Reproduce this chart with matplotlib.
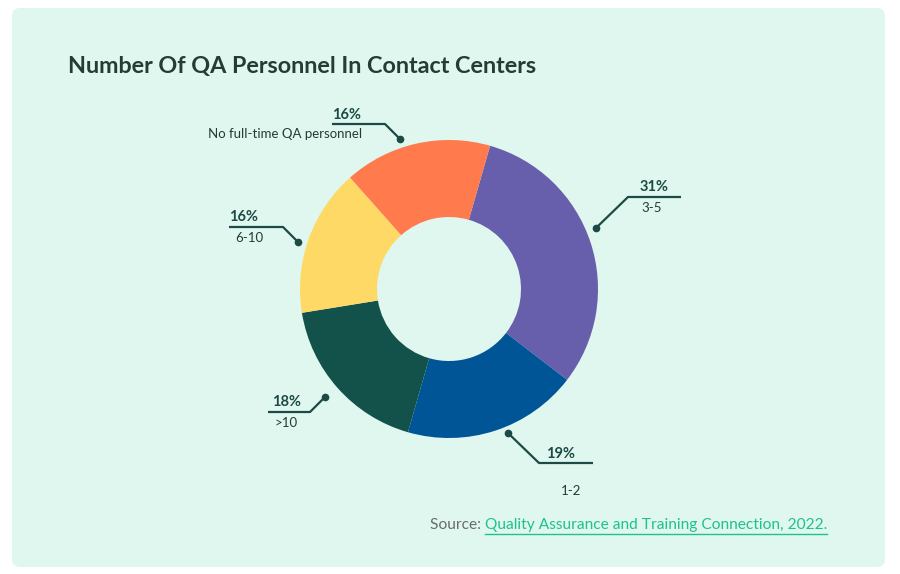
import matplotlib.pyplot as plt
from matplotlib.patches import FancyBboxPatch

# data
labels = ['3-5', '1-2', '>10', '6-10', 'No full-time QA personnel']
shares = [31, 19, 18, 16, 16]
colors = ['#675fab', '#005596', '#13514b', '#ffd966', '#ff7a4d']
pct_labels = [str(s) + '%' for s in shares]

W, H = 900, 574
fig = plt.figure(figsize=(9, 5.74), dpi=100, facecolor='white')
ax = fig.add_axes([0, 0, 1, 1])
ax.set_xlim(0, W)
ax.set_ylim(0, H)
ax.set_aspect('equal')
ax.axis('off')

def py(y):
    # pixel y (from top) -> axis y
    return H - y

# card background
card = FancyBboxPatch((12, py(567)), 873, 559, boxstyle='round,pad=0,rounding_size=8',
                      facecolor='#dff7ef', edgecolor='none', zorder=0)
ax.add_patch(card)

# donut
ax.pie(shares, colors=colors, startangle=74, counterclock=False,
       center=(449, py(289)), radius=149, frame=True,
       wedgeprops=dict(width=77, edgecolor='none'))
ax.set_xlim(0, W)
ax.set_ylim(0, H)
ax.axis('off')

ax.text(68, py(66), 'Number Of QA Personnel In Contact Centers', fontsize=16.8,
        fontweight='bold', family='Lato', color='#263a36', va='center')

line_c = '#1d4a44'
txt_c = '#263a36'

def leader(pts, dot):
    xs = [p[0] for p in pts]
    ys = [py(p[1]) for p in pts]
    ax.plot(xs, ys, color=line_c, lw=1.6, zorder=5, solid_capstyle='butt')
    ax.plot(dot[0], py(dot[1]), 'o', color=line_c, ms=4.5, zorder=6)

# 3-5
leader([(596, 228), (628, 197), (681, 197)], (596, 228))
ax.text(640, py(187), pct_labels[0], fontsize=10.5, fontweight='bold', family='Lato', color=line_c, va='center')
ax.text(641, py(208), labels[0], fontsize=9.5, family='Lato', color=txt_c, va='center')

# 1-2
leader([(508, 433), (539, 463), (593, 463)], (508, 433))
ax.text(546, py(454), pct_labels[1], fontsize=10.5, fontweight='bold', family='Lato', color=line_c, va='center')
ax.text(561, py(491), labels[1], fontsize=9.5, family='Lato', color=txt_c, va='center')

# >10
leader([(325, 397), (310, 412), (268, 412)], (325, 397))
ax.text(272, py(402), pct_labels[2], fontsize=10.5, fontweight='bold', family='Lato', color=line_c, va='center')
ax.text(274, py(423), labels[2], fontsize=9.5, family='Lato', color=txt_c, va='center')

# 6-10
leader([(229, 227), (283, 227), (298, 242)], (298, 242))
ax.text(229, py(217), pct_labels[3], fontsize=10.5, fontweight='bold', family='Lato', color=line_c, va='center')
ax.text(235, py(238), labels[3], fontsize=9.5, family='Lato', color=txt_c, va='center')

# no full-time
leader([(332, 124), (385, 124), (400, 139)], (400, 139))
ax.text(332, py(115), pct_labels[4], fontsize=10.5, fontweight='bold', family='Lato', color=line_c, va='center')
ax.text(362, py(134), labels[4], fontsize=9.5, family='Lato', color=txt_c, va='center', ha='right')

# source
src = ax.text(430, py(525), 'Source: ', fontsize=11.2, family='Lato', color='#6b6b6b', va='center')
fig.canvas.draw()
bb = src.get_window_extent()
x0 = bb.x1
link = ax.text(x0, py(525), 'Quality Assurance and Training Connection, 2022.', fontsize=11.2,
               family='Lato', color='#1ec28b', va='center')
fig.canvas.draw()
lb = link.get_window_extent()
ax.plot([lb.x0, lb.x1], [py(533.5), py(533.5)], color='#1ec28b', lw=1)

fig.savefig('out.png', dpi=100, facecolor='white')
